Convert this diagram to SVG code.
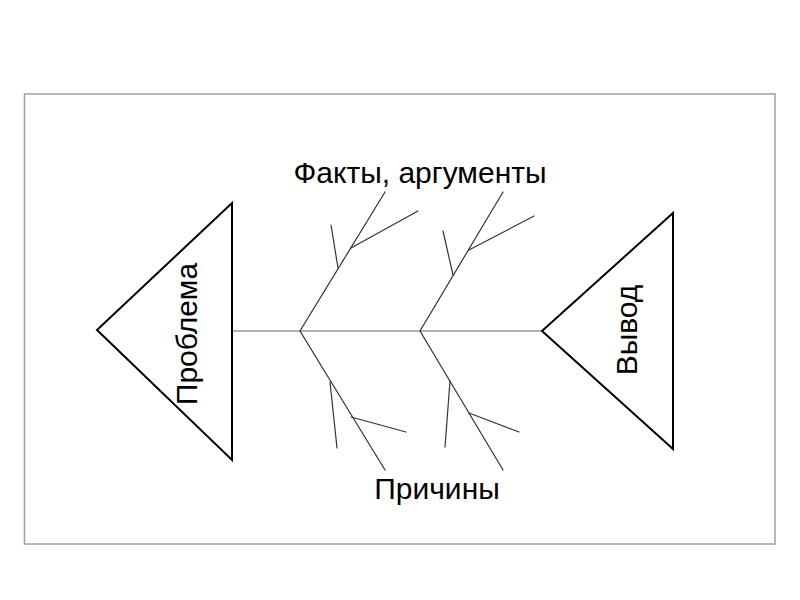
<svg xmlns="http://www.w3.org/2000/svg" width="800" height="600" viewBox="0 0 800 600">
<style>
.frame{fill:none;stroke:#a0a0a0;stroke-width:1.5}
.tri{fill:#fff;stroke:#000;stroke-width:2;stroke-linejoin:miter}
.bone{fill:none;stroke:#333;stroke-width:1.2;stroke-linecap:round}
.spine{fill:none;stroke:#666;stroke-width:1.2}
.lbl{font-family:"Liberation Sans",Arial,sans-serif;font-size:30px;fill:#000}
</style>
<rect width="800" height="600" fill="#fff"/>
<rect class="frame" x="24.5" y="94" width="750.5" height="450"/>
<g id="connectors">
<line class="spine" x1="232" y1="331" x2="541" y2="331"/>
<g class="bone-group">
<polyline class="bone" points="385,192 300,331 385,470"/>
<line class="bone" x1="351" y1="248" x2="418" y2="211"/>
<line class="bone" x1="338" y1="268" x2="331" y2="225"/>
<line class="bone" x1="330" y1="382" x2="337" y2="448"/>
<line class="bone" x1="351" y1="417" x2="406" y2="432"/>
<polyline class="bone" points="503,192 420,331 503,470"/>
<line class="bone" x1="469" y1="250" x2="534" y2="216"/>
<line class="bone" x1="453" y1="275" x2="443" y2="231"/>
<line class="bone" x1="450" y1="381" x2="445" y2="447"/>
<line class="bone" x1="469" y1="413" x2="519" y2="432"/>
</g>
</g>
<g id="problem">
<polygon class="tri" points="97,330 232,203 232,460"/>
<text class="lbl" text-anchor="middle" transform="translate(197,334) rotate(-90)">Проблема</text>
</g>
<g id="conclusion">
<polygon class="tri" points="542,331 673,213 673,449"/>
<text class="lbl" text-anchor="middle" transform="translate(637,330) rotate(-90)">Вывод</text>
</g>
<g id="facts">
<text class="lbl" text-anchor="middle" x="420" y="183">Факты, аргументы</text>
</g>
<g id="causes">
<text class="lbl" text-anchor="middle" x="437" y="499">Причины</text>
</g>
</svg>
